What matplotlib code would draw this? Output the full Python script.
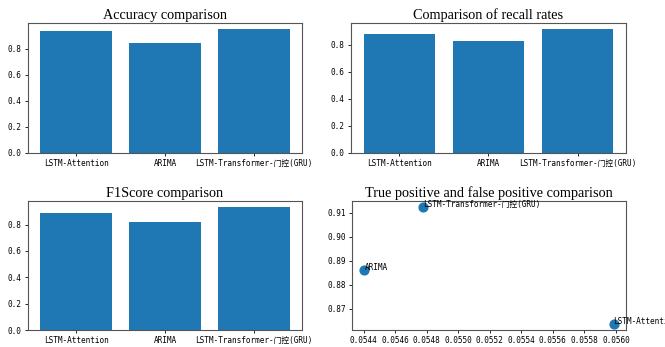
import matplotlib
matplotlib.use("Agg")
import matplotlib.pyplot as plt
from matplotlib.ticker import MultipleLocator

models = ["LSTM-Attention", "ARIMA", "LSTM-Transformer-门控(GRU)"]
accuracy = [0.931, 0.841, 0.948]
recall = [0.877, 0.830, 0.914]
f1score = [0.884, 0.818, 0.932]
fp_rate = [0.055985, 0.054406, 0.054778]
tp_rate = [0.8637, 0.8863, 0.9125]

tick_font = ["DejaVu Sans Mono", "Noto Sans CJK SC"]
title_font = ["Liberation Serif", "DejaVu Serif"]
tsize = 5.6
titsize = 10.3

fig = plt.figure(figsize=(6.65, 3.47), dpi=100)
W, H = 665, 347

def ax_at(l, t, r, b):
    return fig.add_axes([l / W, 1 - b / H, (r - l) / W, (b - t) / H])

ax1 = ax_at(28, 23, 302, 153)
ax2 = ax_at(351, 23, 626, 153)
ax3 = ax_at(28, 201, 302, 330)
ax4 = ax_at(352, 201, 626, 330)

for ax, vals, title in [(ax1, accuracy, "Accuracy comparison"),
                        (ax2, recall, "Comparison of recall rates"),
                        (ax3, f1score, "F1Score comparison")]:
    ax.bar(models, vals, color="#1f77b4")
    ax.yaxis.set_major_locator(MultipleLocator(0.2))
    ax.set_title(title, family=title_font, fontsize=titsize, pad=3)
    for lab in ax.get_xticklabels() + ax.get_yticklabels():
        lab.set_family(tick_font)
        lab.set_fontsize(tsize)
    ax.tick_params(length=2.5, width=0.6, pad=2)

ax4.scatter(fp_rate, tp_rate, color="#1f77b4", s=40)
for x, y, name in zip(fp_rate, tp_rate, models):
    ax4.annotate(name, (x, y), family=tick_font, fontsize=tsize,
                 annotation_clip=False)
ax4.set_title("True positive and false positive comparison",
              family=title_font, fontsize=titsize, pad=3)
ax4.set_xticks([0.0544, 0.0546, 0.0548, 0.0550, 0.0552, 0.0554, 0.0556, 0.0558, 0.0560])
ax4.set_yticks([0.87, 0.88, 0.89, 0.90, 0.91])
ax4.set_xticklabels(["0.0544", "0.0546", "0.0548", "0.0550", "0.0552", "0.0554", "0.0556", "0.0558", "0.0560"])
ax4.set_yticklabels(["0.87", "0.88", "0.89", "0.90", "0.91"])
for lab in ax4.get_xticklabels() + ax4.get_yticklabels():
    lab.set_family(tick_font)
    lab.set_fontsize(tsize)
ax4.tick_params(length=2.5, width=0.6, pad=2)

for ax in (ax1, ax2, ax3, ax4):
    for s in ax.spines.values():
        s.set_color("#555555")
        s.set_linewidth(0.8)

fig.savefig("out.png", dpi=100)
